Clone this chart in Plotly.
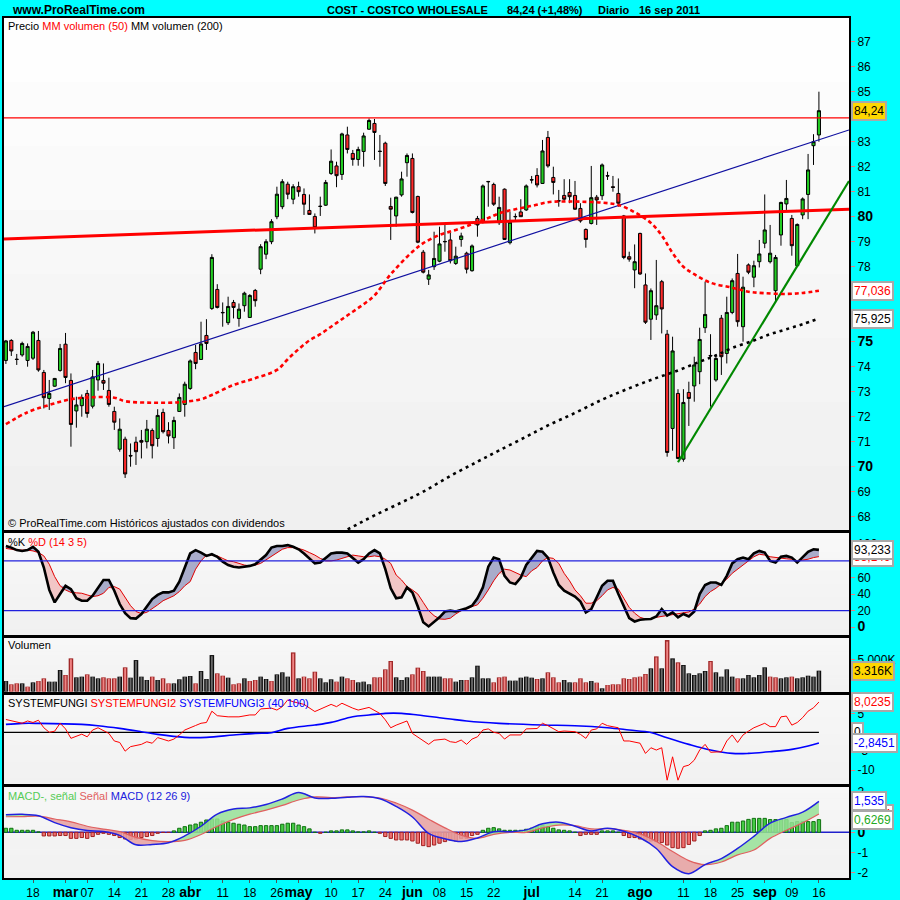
import plotly.graph_objects as go

FONT = "Liberation Sans, Arial, sans-serif"

# ---------------- price candles (trading-day index 0 = 11 feb 2011 ... 150 = 16 sep 2011) -------------
opens = [74.25, 75.05, 74.30, 74.47, 74.25, 74.34, 75.05, 73.77, 72.73, 73.22,
         73.85, 74.90, 73.45, 72.23, 72.44, 72.93, 72.42, 73.47, 73.45, 73.05,
         72.21, 70.70, 71.10, 70.45, 70.98, 71.05, 71.00, 71.45, 71.13, 72.17,
         71.45, 71.16, 72.21, 72.49, 73.13, 74.57, 74.29, 75.25, 76.33, 77.09,
         76.17, 75.76, 76.57, 75.93, 76.44, 75.97, 77.05, 77.90, 78.50, 79.00,
         80.00, 80.40, 81.30, 80.70, 81.20, 80.89, 80.25, 80.01, 80.42, 80.46,
         81.73, 82.03, 81.69, 83.27, 82.53, 82.29, 82.61, 83.50, 83.73, 82.62,
         82.94, 80.41, 80.03, 80.87, 82.16, 82.33, 80.81, 78.58, 77.50, 78.00,
         78.22, 79.01, 79.07, 78.13, 79.09, 78.54, 77.84, 79.93, 79.80, 81.41,
         81.29, 79.76, 81.10, 78.96, 80.01, 80.19, 80.27, 81.48, 81.65, 81.33,
         83.17, 81.57, 80.64, 80.85, 80.97, 80.85, 80.33, 79.49, 79.73, 80.78,
         80.84, 81.64, 81.20, 80.93, 80.03, 78.40, 77.87, 79.33, 77.27, 75.90,
         76.07, 77.40, 75.30, 71.53, 72.93, 70.30, 72.97, 73.23, 73.80, 75.56,
         74.45, 73.47, 75.94, 74.53, 76.17, 77.73, 75.60, 78.07, 77.58, 78.20,
         78.94, 78.20, 77.04, 79.27, 80.51, 79.93, 78.04, 80.07, 80.89, 82.84,
         83.27]
highs = [75.07, 75.10, 74.51, 75.00, 74.93, 75.43, 75.43, 73.87, 73.47, 73.55,
         74.91, 75.35, 73.73, 72.80, 72.89, 73.07, 73.87, 74.23, 74.13, 73.56,
         72.40, 71.93, 71.20, 70.93, 71.20, 71.47, 71.87, 71.53, 72.30, 72.32,
         71.78, 72.00, 72.93, 73.40, 74.29, 74.87, 75.80, 75.90, 78.50, 77.30,
         76.57, 76.80, 76.67, 76.53, 77.00, 76.90, 77.11, 78.90, 79.10, 79.90,
         81.20, 81.50, 81.40, 81.30, 81.40, 81.13, 80.89, 80.13, 80.80, 81.47,
         82.69, 82.20, 83.36, 83.60, 82.67, 82.80, 83.36, 83.93, 83.91, 83.27,
         83.00, 80.76, 80.80, 81.80, 82.53, 82.53, 80.84, 78.67, 77.87, 79.40,
         79.60, 79.67, 79.36, 78.80, 79.36, 78.60, 78.89, 80.03, 81.29, 81.43,
         81.36, 80.80, 81.13, 80.20, 80.13, 80.70, 81.29, 81.63, 81.94, 83.07,
         83.43, 82.00, 81.07, 81.50, 81.50, 81.43, 80.54, 79.53, 82.03, 80.87,
         82.13, 81.80, 81.63, 81.53, 80.07, 78.60, 78.89, 79.36, 77.73, 77.13,
         78.27, 77.47, 75.47, 75.20, 73.10, 73.10, 73.40, 74.40, 75.56, 77.40,
         75.30, 74.50, 76.07, 76.80, 77.53, 78.51, 77.60, 78.13, 78.24, 79.07,
         80.89, 79.67, 78.47, 80.60, 81.47, 80.07, 79.73, 80.77, 82.51, 83.30,
         85.00]
lows = [74.11, 74.43, 74.07, 74.40, 74.00, 74.27, 73.80, 72.33, 72.27, 73.20,
        73.80, 73.34, 70.80, 71.56, 72.00, 71.96, 72.33, 73.04, 73.07, 72.40,
        71.47, 70.60, 69.55, 70.00, 70.07, 70.33, 70.73, 70.33, 70.80, 71.33,
        70.93, 70.71, 72.20, 72.00, 73.07, 73.90, 74.27, 74.67, 76.27, 76.33,
        75.60, 75.67, 75.93, 75.60, 76.20, 75.96, 76.40, 77.70, 78.30, 78.90,
        79.90, 80.30, 80.70, 80.50, 80.80, 80.07, 80.07, 79.33, 80.03, 80.43,
        81.67, 81.18, 81.47, 82.53, 82.04, 82.04, 82.00, 83.47, 82.27, 82.00,
        81.23, 79.07, 79.60, 80.80, 81.60, 80.13, 78.94, 77.73, 77.27, 77.87,
        78.18, 78.60, 78.13, 78.07, 78.80, 77.73, 77.80, 79.20, 79.73, 80.40,
        80.43, 79.67, 79.07, 78.89, 79.87, 80.00, 80.23, 81.33, 81.17, 81.31,
        81.96, 80.89, 80.40, 80.60, 80.54, 80.27, 79.76, 78.76, 79.69, 79.67,
        80.67, 81.47, 81.00, 80.40, 78.30, 78.20, 77.14, 77.67, 75.71, 75.07,
        75.87, 75.33, 70.40, 70.64, 70.30, 70.20, 71.63, 72.60, 73.30, 75.35,
        72.40, 73.40, 73.67, 74.13, 76.10, 75.60, 75.00, 77.70, 77.18, 77.97,
        78.74, 78.13, 76.60, 78.84, 80.27, 78.44, 78.00, 79.90, 79.90, 82.07,
        83.00]
closes = [75.03, 74.63, 74.29, 74.93, 74.81, 75.38, 73.87, 72.76, 72.93, 73.53,
          74.73, 73.57, 71.69, 72.47, 72.77, 72.13, 73.59, 74.13, 73.34, 72.49,
          71.78, 71.50, 69.71, 70.43, 70.60, 70.98, 71.50, 70.84, 72.05, 71.40,
          71.23, 71.85, 72.77, 73.30, 74.23, 74.13, 74.91, 74.93, 78.37, 76.37,
          76.16, 76.41, 76.37, 76.30, 76.94, 76.85, 76.64, 78.80, 79.00, 79.80,
          80.90, 81.40, 80.90, 81.20, 81.00, 80.50, 80.09, 79.56, 80.41, 81.37,
          82.22, 81.64, 83.31, 82.69, 82.29, 82.69, 83.23, 83.85, 83.37, 82.61,
          81.33, 80.30, 80.78, 81.51, 82.45, 80.17, 78.98, 77.78, 77.67, 78.33,
          78.91, 79.00, 78.24, 78.42, 79.23, 77.90, 78.83, 79.67, 81.23, 81.40,
          80.50, 80.37, 79.09, 79.78, 80.00, 80.00, 81.23, 81.47, 81.27, 82.63,
          82.03, 81.37, 80.63, 80.70, 80.80, 80.30, 79.83, 79.09, 80.76, 80.67,
          82.07, 81.63, 81.17, 80.54, 78.37, 78.30, 78.20, 77.71, 75.78, 77.04,
          76.44, 76.31, 70.57, 74.63, 70.33, 72.57, 72.73, 74.07, 75.09, 76.09,
          74.43, 74.33, 74.40, 76.17, 77.44, 75.80, 77.18, 77.78, 78.04, 78.51,
          79.47, 78.54, 78.37, 80.57, 80.73, 78.84, 79.69, 80.71, 81.87, 83.00,
          84.24]
days = list(range(len(closes)))

# x-axis labels (trading-day index of each label)
tick_days = [5, 11, 15, 20, 25, 30, 34, 40, 45, 50, 54, 60, 65, 70, 75, 80, 85, 90,
             97, 105, 110, 117, 125, 130, 135, 140, 145, 150]
tick_names = ["18", "mar", "07", "14", "21", "28", "abr", "11", "18", "26", "may", "10",
              "17", "24", "jun", "08", "15", "22", "jul", "14", "21", "ago", "11", "18",
              "25", "sep", "09", "16"]
month_names = {"mar", "abr", "may", "jun", "jul", "ago", "sep"}

# overlays on the price panel
resistance_level = 83.95
blue_trend_x, blue_trend_y = [-0.35, 155.55], [72.40, 83.47]
red_trend_x, red_trend_y = [-0.35, 155.55], [79.11, 80.30]
green_trend_x, green_trend_y = [124.0, 155.55], [70.18, 81.43]

ma50_x = [0, 4, 8, 12, 16, 20, 22, 27, 32, 36, 38, 42, 46, 50, 52, 54, 56, 58, 60, 62,
          64, 66, 68, 71, 75, 77, 80, 83, 86, 89, 91, 94, 97, 100, 103, 106, 110, 113,
          116, 119, 121, 123, 125, 127, 130, 134, 137, 140, 144, 147, 150]
ma50_y = [71.70, 72.18, 72.47, 72.70, 72.78, 72.76, 72.62, 72.56, 72.58, 72.70, 72.87,
          73.27, 73.54, 73.87, 74.30, 74.70, 75.05, 75.30, 75.60, 75.90, 76.20, 76.50,
          76.85, 77.70, 78.60, 78.94, 79.27, 79.47, 79.70, 79.95, 80.13, 80.30, 80.43,
          80.58, 80.61, 80.60, 80.56, 80.47, 80.18, 79.75, 79.25, 78.55, 78.00, 77.70,
          77.36, 77.16, 77.00, 76.94, 76.91, 76.95, 77.036]
ma200_x = [55, 60, 64, 68, 73, 77, 82, 87, 91, 96, 100, 105, 110, 114, 119, 124, 128,
           131, 134, 138, 141, 144, 147, 150]
ma200_y = [66.60, 67.15, 67.60, 68.05, 68.57, 69.00, 69.63, 70.20, 70.65, 71.20, 71.65,
           72.15, 72.68, 73.05, 73.47, 73.85, 74.20, 74.45, 74.75, 75.05, 75.30, 75.50,
           75.70, 75.925]

# stochastic %K / %D (14 3 5)
stoch_k = [97.9, 96, 93, 92, 93, 97, 91, 72, 45, 30, 40, 50, 46, 35, 32, 32, 38, 47, 57, 57,
           44, 28, 17, 11, 10.5, 16, 25, 34, 39, 42, 42, 44, 55, 72, 89, 93, 90, 86, 88, 85,
           79, 75, 73, 72, 73, 74, 76, 82, 87, 96, 98, 98, 99, 97, 94, 89, 83, 77, 78, 84,
           89, 90, 90, 89, 84, 78, 82, 89, 93, 89, 70, 47, 35, 36, 48, 42, 25, 6, 1, 6,
           12, 19, 20, 19, 21, 23, 26, 35, 48, 73, 84, 82, 62, 54, 52, 60, 75, 83, 92, 91,
           84, 66, 51, 44, 40, 37, 31, 18, 22, 36, 50, 56, 56, 40, 25, 11, 7, 9, 9.6, 10,
           13, 22, 14, 18, 12, 16, 13, 19, 40, 51, 54, 54, 51, 62, 77, 82, 84, 82, 89, 92,
           90, 80, 78, 85, 86, 84, 78, 84, 91, 94, 93.233]
stoch_d = [95, 94, 93, 93, 93, 92, 90, 86, 76, 61, 50, 45, 42, 41.5, 41, 39, 37, 38, 41, 48,
           49, 46, 36, 26, 19, 16.5, 18, 22, 27, 32, 35, 38, 43, 50, 55, 70, 80, 87, 87, 86,
           83, 80, 79, 77, 75, 74, 75, 77, 81, 86, 90, 94, 96, 96, 95, 93, 90, 87, 83, 80,
           80, 81, 83, 85, 87, 86, 85, 85, 86, 85, 82, 77, 63, 57, 49, 45, 40, 30, 20, 14,
           10, 9.6, 11, 16, 20, 22, 25, 27, 35, 45, 56, 65, 70, 69, 66, 63, 61, 68, 72, 80,
           84, 83, 77, 65, 56, 45, 38, 29, 29, 32, 38, 45, 48, 46, 35, 24, 17, 12, 10, 10.5,
           12, 13, 14, 15, 16, 17, 18.5, 22, 28, 37, 43, 47, 52, 58, 65, 70, 75, 80, 85, 88,
           87, 85, 84, 83, 82.5, 82, 80, 81, 82, 84, 85.149]
stoch_levels = [20, 80]

# volume (millions) and bar colour as shown (k = black, r = red)
volume = [1.68, 1.16, 1.31, 1.31, 0.79, 1.47, 1.68, 2.10, 1.58, 1.58, 3.42, 2.63, 5.26, 2.26,
          2.37, 2.73, 2.37, 2.10, 2.26, 2.10, 2.10, 2.37, 3.84, 2.21, 4.99, 2.37, 1.84, 2.37,
          1.84, 2.10, 1.31, 1.31, 1.95, 2.37, 2.47, 1.31, 3.26, 2.00, 5.78, 2.89, 2.52, 2.21,
          1.16, 1.31, 2.10, 1.68, 1.84, 2.37, 2.00, 1.68, 2.73, 3.05, 2.37, 6.20, 2.10, 2.37,
          2.10, 3.15, 2.10, 1.47, 1.95, 1.58, 2.37, 2.10, 1.84, 1.47, 1.58, 1.16, 2.26, 2.26,
          3.52, 4.84, 2.26, 1.84, 2.26, 2.73, 3.79, 3.26, 2.37, 2.37, 2.37, 2.10, 2.10, 1.58,
          1.84, 1.84, 2.26, 4.10, 2.10, 2.10, 1.47, 2.26, 2.37, 1.74, 1.74, 2.21, 2.37, 2.21,
          2.00, 2.10, 3.05, 2.26, 1.47, 1.84, 1.47, 1.47, 2.10, 1.47, 1.68, 1.42, 0.53, 1.05,
          1.16, 1.16, 2.10, 2.00, 2.26, 2.37, 2.79, 3.68, 5.57, 3.68, 8.15, 5.26, 4.63, 4.21,
          2.89, 2.63, 2.89, 3.26, 4.84, 3.05, 2.37, 3.52, 2.37, 2.10, 2.10, 2.63, 2.26, 2.63,
          3.84, 2.37, 2.26, 2.10, 2.26, 2.37, 2.10, 2.26, 2.52, 2.37, 3.316]
volume_dir = ("krrkrkrrkkkrrkkrkkrrrkrkkkkrkrrkkkkrkkkrrkrrkrrkkrkkkrkrrrkkkrkrrkkkrrrrkkkrrrkkkr"
              "rkkrkkkkrrrkkkkkrkrrrkkrrrkrkrrrrrrrr"
              "krkrkrkkkkkrkkkkrkkkkkrrkkrkkkkk")

# SYSTEMFUNGI (40 100)
sf2_x = [0, 2, 3, 4, 5, 6, 7, 8, 9, 10, 11, 12, 14, 15, 16, 17, 19, 20, 21, 22, 23, 25, 26, 27,
         28, 30, 31, 32, 33, 35, 36, 37, 38, 39, 41, 43, 45, 46, 47, 49, 50, 51, 52, 53, 55,
         57, 59, 60, 61, 62, 64, 65, 67, 69, 70, 71, 72, 74, 75, 77, 78, 79, 81, 82, 83, 84,
         85, 86, 87, 88, 89, 90, 91, 92, 93, 95, 96, 98, 99, 100, 102, 103, 105, 106, 107,
         108, 109, 110, 111, 113, 114, 115, 117, 118, 119, 120, 121, 122, 123, 124, 125, 126,
         127, 128, 129, 130, 131, 132, 133, 134, 135, 136, 137, 138, 140, 141, 142, 143, 144,
         145, 146, 147, 148, 149, 150]
sf2_y = [3.4, 2.6, 2.4, 3.0, 2.6, 3.2, 1.2, 0.0, 0.3, 2.4, 0.9, -1.6, -0.5, -1.2, 0.6, 1.2,
         -0.3, -2.3, -2.7, -5.0, -3.8, -3.2, -2.5, -2.9, -1.4, -2.3, -1.8, -0.7, 0.6, 1.8,
         2.4, 2.6, 5.6, 4.4, 4.1, 4.1, 4.6, 4.6, 6.2, 6.4, 5.9, 6.8, 8.6, 8.1, 7.4, 5.5, 6.8,
         7.4, 6.8, 7.7, 6.4, 5.9, 6.6, 5.0, 3.3, 1.2, 1.9, 3.0, -0.3, -2.3, -3.2, -2.1, -1.8,
         -2.5, -2.7, -2.05, -3.2, -1.8, -1.2, 0.6, 0.9, 0.0, -0.3, -1.8, -0.7, -0.7, 0.9, 1.0,
         2.4, 1.75, 0.16, 0.34, 0.16, -0.55, -1.6, 0.6, 0.9, 2.4, 1.75, 1.2, -2.3, -2.3, -2.9,
         -5.6, -4.1, -4.7, -4.1, -12.7, -6.5, -12.7, -9.1, -8.7, -7.4, -4.7, -3.2, -5.3, -5.3,
         -5.15, -2.3, -0.7, -2.7, -0.7, 0.3, 1.2, 2.4, 1.5, 1.5, 4.1, 4.3, 1.9, 2.6, 3.9, 5.6,
         6.5, 8.0235]
sf3_x = [0, 3, 6, 14, 17, 21, 25, 28, 33, 37, 42, 46, 49, 52, 57, 60, 64, 67, 70, 73, 76, 80,
         82, 85, 91, 99, 105, 111, 115, 119, 122, 126, 130, 134, 137, 141, 145, 148, 150]
sf3_y = [2.1, 2.37, 2.37, 2.1, 1.75, 1.04, 0.16, -0.55, -1.34, -1.34, -0.73, -0.28, -0.11,
         1.04, 1.93, 2.63, 4.14, 4.58, 5.02, 5.02, 4.58, 3.87, 3.52, 3.0, 2.37, 1.93, 1.75,
         1.22, 0.60, -0.05, -1.45, -3.2, -4.7, -5.59, -5.59, -5.15, -4.53, -3.64, -2.8451]

# MACD (12 26 9)
macd_x = list(range(0, 151, 3))
macd_line = [0.87, 0.89, 0.82, 0.48, 0.23, 0.09, 0.04, -0.15, -0.62, -0.60, -0.52, -0.18,
             0.30, 0.90, 1.15, 1.21, 1.38, 1.65, 1.97, 1.70, 1.68, 1.74, 1.77, 1.66, 1.28,
             0.76, -0.05, -0.32, -0.46, -0.28, 0.03, 0.03, 0.12, 0.42, 0.50, 0.30, 0.07, 0.20,
             0.05, -0.27, -0.80, -1.70, -2.05, -1.60, -1.30, -0.80, -0.20, 0.45, 0.74, 1.00,
             1.535]
macd_signal = [0.77, 0.78, 0.80, 0.66, 0.52, 0.30, 0.16, 0.03, -0.25, -0.41, -0.46, -0.40,
               -0.11, 0.30, 0.64, 0.90, 1.10, 1.33, 1.60, 1.75, 1.72, 1.75, 1.76, 1.70, 1.45,
               1.10, 0.65, 0.22, -0.14, -0.30, -0.10, 0.0, 0.0, 0.22, 0.36, 0.33, 0.17, 0.18,
               0.10, -0.08, -0.45, -0.95, -1.40, -1.60, -1.47, -1.12, -0.88, -0.30, 0.10, 0.47,
               0.9084]
macd_hist = [0.20, 0.20, 0.10, 0.10, 0.10, 0.10, 0.02, -0.18, -0.18, -0.18, -0.16, -0.16,
             -0.30, -0.30, -0.26, -0.30, -0.21, -0.10, -0.05, -0.10, -0.16, -0.26, -0.33,
             -0.35, -0.33, -0.26, -0.21, -0.16, -0.05, -0.01, -0.01, 0.07, 0.20, 0.28, 0.36,
             0.41, 0.50, 0.61, 0.66, 0.66, 0.56, 0.50, 0.45, 0.40, 0.36, 0.28, 0.28, 0.33, 0.33,
             0.33, 0.33, 0.40, 0.45, 0.45, 0.36, 0.28, 0.17, 0.0, -0.05, 0.0, 0.07, 0.07, 0.12,
             0.12, 0.07, 0.02, 0.02, 0.07, 0.0, -0.05, -0.21, -0.30, -0.38, -0.38, -0.38, -0.43,
             -0.54, -0.66, -0.71, -0.63, -0.54, -0.46, -0.38, -0.43, -0.30, -0.30, -0.16, -0.10,
             0.10, 0.20, 0.23, 0.17, 0.10, 0.10, 0.10, 0.10, 0.15, 0.20, 0.28, 0.33, 0.28, 0.20,
             0.12, 0.10, 0.07, 0.0, -0.16, -0.10, -0.10, -0.10, 0.07, 0.07, 0.07, 0.0, -0.16,
             -0.26, -0.26, -0.33, -0.38, -0.43, -0.46, -0.50, -0.63, -0.76, -0.79, -0.76, -0.60,
             -0.43, -0.16, 0.07, 0.10, 0.17, 0.20, 0.33, 0.50, 0.50, 0.56, 0.64, 0.69, 0.69,
             0.69, 0.63, 0.63, 0.64, 0.63, 0.48, 0.53, 0.53, 0.53, 0.53, 0.627]

# ---------------- layout geometry (pixels of the 900x900 page) ----------------
L, R, T, B = 4, 51, 18, 22
PW, PH = 900 - L - R, 900 - T - B
XR = [-0.35, 155.55]


def fy(py):
    return (900 - B - py) / PH


def fx(px):
    return (px - L) / PW


panels = {  # top px, bottom px, value range
    "y": (18, 530, [67.468, 87.948]),
    "y2": (533, 635, [-9.3, 113.6]),
    "y3": (638, 692, [-0.05, 8.47]),
    "y4": (695, 784, [-13.71, 9.89]),
    "y5": (787, 878, [-2.262, 2.243]),
}

fig = go.Figure()

# ---- price panel ----
fig.add_trace(go.Candlestick(
    x=days, open=opens, high=highs, low=lows, close=closes, xaxis="x", yaxis="y",
    increasing=dict(fillcolor="#22cc22", line=dict(color="black", width=1)),
    decreasing=dict(fillcolor="#ff2a2a", line=dict(color="black", width=1)),
    whiskerwidth=0, hoverinfo="skip"))
fig.add_trace(go.Scatter(x=red_trend_x, y=red_trend_y, mode="lines",
                         line=dict(color="#ff0000", width=3), xaxis="x", yaxis="y"))
fig.add_trace(go.Scatter(x=blue_trend_x, y=blue_trend_y, mode="lines",
                         line=dict(color="#1010a0", width=1.2), xaxis="x", yaxis="y"))
fig.add_trace(go.Scatter(x=green_trend_x, y=green_trend_y, mode="lines",
                         line=dict(color="#008800", width=2.2), xaxis="x", yaxis="y"))
fig.add_trace(go.Scatter(x=ma50_x, y=ma50_y, mode="lines",
                         line=dict(color="#ff0000", width=2.6, dash="4px,3px", shape="spline"),
                         xaxis="x", yaxis="y"))
fig.add_trace(go.Scatter(x=ma200_x, y=ma200_y, mode="lines",
                         line=dict(color="#000000", width=2.6, dash="3px,4px", shape="spline"),
                         xaxis="x", yaxis="y"))

# ---- stochastic ----
kd_hi = [max(k, d) for k, d in zip(stoch_k, stoch_d)]
kd_lo = [min(k, d) for k, d in zip(stoch_k, stoch_d)]
fig.add_trace(go.Scatter(x=days, y=stoch_d, mode="lines", line=dict(width=0), xaxis="x2", yaxis="y2"))
fig.add_trace(go.Scatter(x=days, y=kd_hi, mode="lines", line=dict(width=0), fill="tonexty",
                         fillcolor="#a9acca", xaxis="x2", yaxis="y2"))
fig.add_trace(go.Scatter(x=days, y=stoch_d, mode="lines", line=dict(width=0), xaxis="x2", yaxis="y2"))
fig.add_trace(go.Scatter(x=days, y=kd_lo, mode="lines", line=dict(width=0), fill="tonexty",
                         fillcolor="#f2c6c6", xaxis="x2", yaxis="y2"))
fig.add_trace(go.Scatter(x=days, y=stoch_d, mode="lines", line=dict(color="#e00000", width=1),
                         xaxis="x2", yaxis="y2"))
fig.add_trace(go.Scatter(x=days, y=stoch_k, mode="lines", line=dict(color="#000000", width=2.6),
                         xaxis="x2", yaxis="y2"))

# ---- volume ----
outer_col = ["#a02828" if c == "r" else "#101010" for c in volume_dir]
inner_col = ["#f08484" if c == "r" else "#686868" for c in volume_dir]
fig.add_trace(go.Bar(x=days, y=volume, width=0.84, marker=dict(color=outer_col, line=dict(width=0)),
                     xaxis="x3", yaxis="y3"))
fig.add_trace(go.Bar(x=days, y=[v * 0.97 for v in volume], width=0.34,
                     marker=dict(color=inner_col, line=dict(width=0)), xaxis="x3", yaxis="y3"))

# ---- SYSTEMFUNGI ----
fig.add_trace(go.Scatter(x=[days[0] - 0.35, days[-1]], y=[0, 0], mode="lines",
                         line=dict(color="black", width=1.2), xaxis="x4", yaxis="y4"))
fig.add_trace(go.Scatter(x=sf3_x, y=sf3_y, mode="lines", line=dict(color="#0000ff", width=1.6, shape="spline"),
                         xaxis="x4", yaxis="y4"))
fig.add_trace(go.Scatter(x=sf2_x, y=sf2_y, mode="lines", line=dict(color="#ff0000", width=1),
                         xaxis="x4", yaxis="y4"))

# ---- MACD ----
m_hi = [max(a, b) for a, b in zip(macd_line, macd_signal)]
m_lo = [min(a, b) for a, b in zip(macd_line, macd_signal)]
hist_fill = ["#44cc44" if h >= 0 else "#f07070" for h in macd_hist]
hist_line = ["#107010" if h >= 0 else "#a02020" for h in macd_hist]
fig.add_trace(go.Bar(x=days, y=macd_hist, width=0.62,
                     marker=dict(color=hist_fill, line=dict(color=hist_line, width=1)),
                     xaxis="x5", yaxis="y5"))
fig.add_trace(go.Scatter(x=macd_x, y=macd_signal, mode="lines", line=dict(width=0, shape="spline"), xaxis="x5", yaxis="y5"))
fig.add_trace(go.Scatter(x=macd_x, y=m_hi, mode="lines", line=dict(width=0, shape="spline"), fill="tonexty",
                         fillcolor="rgba(150,225,150,0.85)", xaxis="x5", yaxis="y5"))
fig.add_trace(go.Scatter(x=macd_x, y=macd_signal, mode="lines", line=dict(width=0, shape="spline"), xaxis="x5", yaxis="y5"))
fig.add_trace(go.Scatter(x=macd_x, y=m_lo, mode="lines", line=dict(width=0, shape="spline"), fill="tonexty",
                         fillcolor="rgba(230,160,160,0.85)", xaxis="x5", yaxis="y5"))
fig.add_trace(go.Scatter(x=macd_x, y=macd_signal, mode="lines",
                         line=dict(color="#e06060", width=1.2, shape="spline"), xaxis="x5", yaxis="y5"))
fig.add_trace(go.Scatter(x=macd_x, y=macd_line, mode="lines",
                         line=dict(color="#2020e0", width=1.5, shape="spline"), xaxis="x5", yaxis="y5"))

# ---------------- axes ----------------
lay = dict(
    width=900, height=900, autosize=False,
    margin=dict(l=L, r=R, t=T, b=B, pad=0, autoexpand=False),
    paper_bgcolor="#00ffff", plot_bgcolor="#f4f4f4",
    showlegend=False, barmode="overlay", boxgap=0.18,
    font=dict(family=FONT, size=12, color="black"),
    hovermode=False,
)

tick_fmt = []
for t in tick_names:
    if t in month_names:
        tick_fmt.append('<span style="font-size:14px"><b>%s</b></span>' % t)
    else:
        tick_fmt.append(t)

for i, key in enumerate(["y", "y2", "y3", "y4", "y5"]):
    top, bot, rng = panels[key]
    xa = "xaxis" if i == 0 else "xaxis%d" % (i + 1)
    ya = "yaxis" if i == 0 else "yaxis%d" % (i + 1)
    xname = "x" if i == 0 else "x%d" % (i + 1)
    lay[xa] = dict(domain=[0, 1], anchor=key, range=XR, showgrid=False, zeroline=False,
                   showline=True, mirror=True, linecolor="black", linewidth=2,
                   showticklabels=(i == 4), ticks="outside" if i == 4 else "", ticklen=3,
                   tickcolor="#555555", tickvals=tick_days, ticktext=tick_fmt, tickangle=0,
                   rangeslider=dict(visible=False), fixedrange=True, automargin=False,
                   tickfont=dict(family=FONT, size=12, color="black"))
    lay[ya] = dict(domain=[fy(bot), fy(top)], anchor=xname, range=rng, side="right",
                   showgrid=False, zeroline=False, showline=True, mirror=True,
                   linecolor="black", linewidth=2, ticks="outside", ticklen=4,
                   tickcolor="#e88080", fixedrange=True, automargin=False, tickangle=0,
                   tickfont=dict(family=FONT, size=12, color="black"))

big = lambda s: '<span style="font-size:14px"><b>%s</b></span>' % s
lay["yaxis"].update(tickvals=list(range(68, 88)),
                    ticktext=[big(v) if v in (70, 75, 80) else str(v) for v in range(68, 88)])
lay["yaxis2"].update(tickvals=[0, 20, 40, 60, 80, 100],
                     ticktext=[big("0"), "20", "40", "60", "80", "100"])
lay["yaxis3"].update(tickvals=[5], ticktext=["5.000K"])
lay["yaxis4"].update(tickvals=[-10, -5, 0, 5], ticktext=["-10", "-5", "0", "5"])
lay["yaxis5"].update(tickvals=[-2, -1, 0, 1, 2], ticktext=["-2", "-1", big("0"), "1", "2"])
fig.update_layout(**lay)

# ---------------- background gradients and reference lines ----------------
shapes = []
grad = {"y": (255, 239), "y2": (249, 240), "y3": (247, 242), "y4": (247, 241), "y5": (247, 241)}
for key, (ctop, cbot) in grad.items():
    n = 16
    for j in range(n):
        c = int(round(cbot + (ctop - cbot) * (j + 0.5) / n))
        shapes.append(dict(type="rect", xref="x domain" if key == "y" else "x%s domain" % key[1:],
                           yref="%s domain" % key, x0=0, x1=1, y0=j / n, y1=(j + 1) / n + 0.002,
                           fillcolor="rgb(%d,%d,%d)" % (c, c, c), line=dict(width=0), layer="below"))
shapes.append(dict(type="line", xref="x domain", yref="y", x0=0, x1=1, y0=resistance_level,
                   y1=resistance_level, line=dict(color="#ff0000", width=1.2)))
for lv in stoch_levels:
    shapes.append(dict(type="line", xref="x2 domain", yref="y2", x0=0, x1=1, y0=lv, y1=lv,
                       line=dict(color="#2020dd", width=1.2)))
shapes.append(dict(type="line", xref="x5 domain", yref="y5", x0=0, x1=1, y0=0, y1=0,
                   line=dict(color="#2020cc", width=1.5), layer="below"))
fig.update_layout(shapes=shapes)

# ---------------- texts ----------------
ann = []


def label(px, py, text, size=11, bold=False, color="black"):
    ann.append(dict(xref="paper", yref="paper", x=fx(px), y=fy(py), xanchor="left",
                    yanchor="middle", showarrow=False, text=("<b>%s</b>" % text) if bold else text,
                    font=dict(family=FONT, size=size, color=color)))


label(10, 10, "www.ProRealTime.com", 12, True)
label(325, 10, "COST - COSTCO WHOLESALE", 11, True)
label(505, 10, "84,24 (+1,48%)", 11, True)
label(596, 10, "Diario", 11, True)
label(637, 10, "16 sep 2011", 11, True)
label(6, 26, 'Precio <span style="color:#ff0000">MM volumen (50)</span> MM volumen (200)')
label(6, 523, "© ProRealTime.com Históricos ajustados con dividendos")
label(6, 542, '%K <span style="color:#ff0000">%D (14 3 5)</span>')
label(6, 645, "Volumen")
label(6, 703, 'SYSTEMFUNGI <span style="color:#ff0000">SYSTEMFUNGI2</span> '
              '<span style="color:#0000ff">SYSTEMFUNGI3 (40 100)</span>')
label(6, 796, '<span style="color:#55cc55">MACD-, señal</span> <span style="color:#e06060">Señal</span> '
              '<span style="color:#2020dd">MACD (12 26 9)</span>')


def vbox(yref, yval, text, color="black", bg="white"):
    ann.append(dict(xref="paper", yref=yref, x=fx(851), y=yval, xanchor="left", yanchor="middle",
                    showarrow=False, text=text, bgcolor=bg, bordercolor="#a8a8a8", borderwidth=2,
                    borderpad=1, font=dict(family=FONT, size=12, color=color)))


vbox("y", 84.24, "84,24", "black", "#ffd700")
vbox("y", 77.036, "77,036", "#ff0000")
vbox("y", 75.925, "75,925", "black")
vbox("y2", 85.149, "85,149", "#ff0000")
vbox("y2", 93.233, "93,233", "black")
vbox("y3", 3.316, "3.316K", "black", "#ffd700")
vbox("y4", 8.0235, "8,0235", "#ff0000")
vbox("y4", 0, "0", "black")
vbox("y4", -2.8451, "-2,8451", "#0000ff")
vbox("y5", 0.9084, "0,9084", "#ff0000")
vbox("y5", 1.535, "1,535", "#0000ff")
vbox("y5", 0.6269, "0,6269", "#22aa22")
fig.update_layout(annotations=ann)

fig.write_html("out.html", config={"displayModeBar": False, "staticPlot": True},
               post_script="document.body.style.margin='0px';document.body.style.padding='0px';")
